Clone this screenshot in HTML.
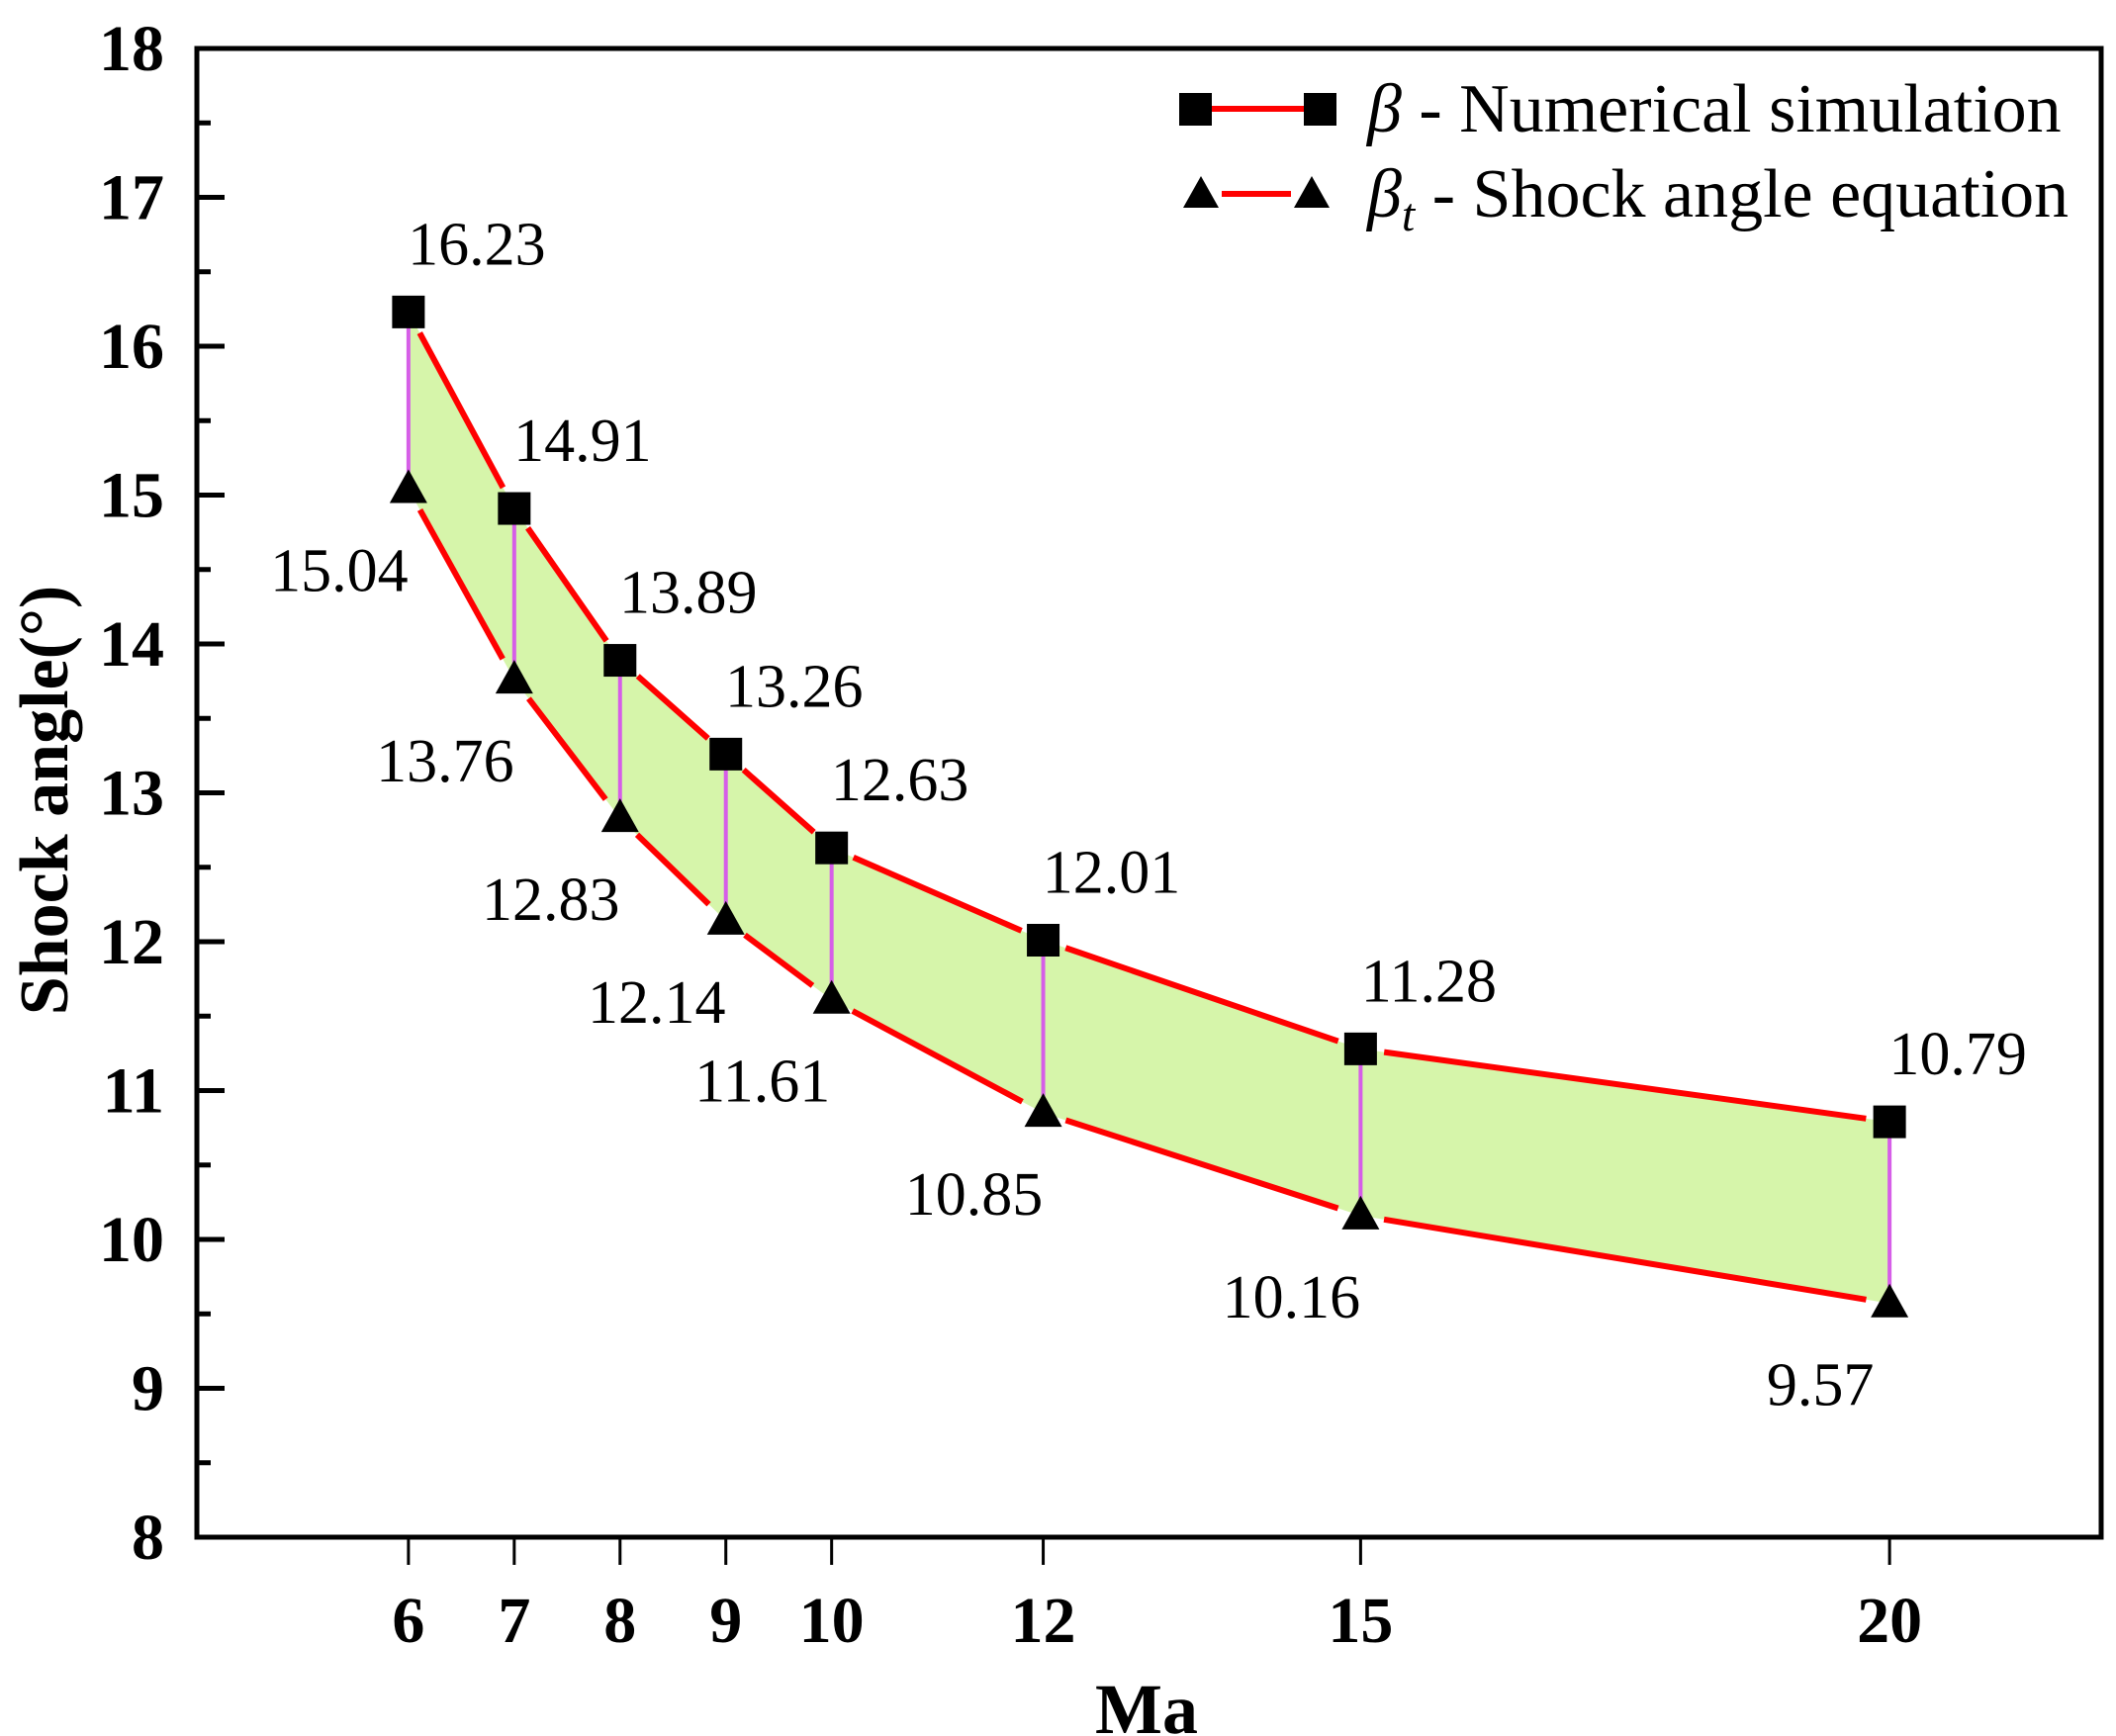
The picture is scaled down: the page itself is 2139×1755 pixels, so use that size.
<!DOCTYPE html>
<html><head><meta charset="utf-8"><style>
html,body{margin:0;padding:0;background:#fff;}
svg{display:block;font-family:"Liberation Serif",serif;}
</style></head><body>
<svg id="chart" width="2139" height="1755" viewBox="0 0 2139 1755" xmlns="http://www.w3.org/2000/svg">
<g id="fill"></g>
<g id="vlines"></g>
<g id="lines"></g>
<g id="marks"></g>
<g id="labels"></g>
<g id="axes"></g>
<text transform="translate(68,809) rotate(-90)" text-anchor="middle" font-weight="bold" font-size="70">Shock angle(°)</text>
<text x="1159" y="1752" text-anchor="middle" font-weight="bold" font-size="72">Ma</text>
<g>
  <g>
    <line x1="1208" y1="110" x2="1334" y2="110" stroke="#f00" stroke-width="6"/>
    <rect x="1192" y="94" width="33" height="33" fill="#000"/>
    <rect x="1318" y="94" width="33" height="33" fill="#000"/>
    <text x="1382" y="133" font-size="70"><tspan font-style="italic">β</tspan> - Numerical simulation</text>
  </g>
  <g>
    <line x1="1235" y1="196" x2="1305" y2="196" stroke="#f00" stroke-width="6"/>
    <polygon points="1214,178 1196,210 1232,210" fill="#000"/>
    <polygon points="1326,178 1308,210 1344,210" fill="#000"/>
    <text x="1382" y="219" font-size="70"><tspan font-style="italic">β</tspan><tspan font-style="italic" font-size="48" dy="14">t</tspan><tspan dy="-14"> - Shock angle equation</tspan></text>
  </g>
</g>
</svg>
<script>
const categories = [6, 7, 8, 9, 10, 12, 15, 20];
const betaSim = [16.23, 14.91, 13.89, 13.26, 12.63, 12.01, 11.28, 10.79];
const betaEq = [15.04, 13.76, 12.83, 12.14, 11.61, 10.85, 10.16, 9.57];
const yTicks = [8, 9, 10, 11, 12, 13, 14, 15, 16, 17, 18];
const xTicks = [6, 7, 8, 9, 10, 12, 15, 20];

const L = 199, R = 2124, T = 49, B = 1554;
const xMin = 4, xMax = 22, yMin = 8, yMax = 18;
const X = v => L + (v - xMin) / (xMax - xMin) * (R - L);
const Y = v => B - (v - yMin) / (yMax - yMin) * (B - T);
const NS = 'http://www.w3.org/2000/svg';
function mk(tag, attrs, parent) {
  const e = document.createElementNS(NS, tag);
  for (const k in attrs) e.setAttribute(k, attrs[k]);
  parent.appendChild(e);
  return e;
}
const gFill = document.getElementById('fill');
const gV = document.getElementById('vlines');
const gL = document.getElementById('lines');
const gM = document.getElementById('marks');
const gT = document.getElementById('labels');
const gA = document.getElementById('axes');

let pts = categories.map((c, i) => X(c) + ',' + Y(betaSim[i]));
pts = pts.concat(categories.map((c, i) => X(c) + ',' + Y(betaEq[i])).reverse());
const band = mk('polygon', {points: pts.join(' '), fill: '#d6f5aa'}, gFill);



categories.forEach((c, i) => {
  const v = mk('line', {x1: X(c), x2: X(c), y1: Y(betaSim[i]), y2: Y(betaEq[i]), stroke: '#d65ee8', 'stroke-width': 4}, gV);
  
  
});

function drawLine(vals, name) {
  for (let i = 0; i < vals.length - 1; i++) {
    const x1 = X(categories[i]), y1 = Y(vals[i]), x2 = X(categories[i + 1]), y2 = Y(vals[i + 1]);
    const dx = x2 - x1, dy = y2 - y1, len = Math.hypot(dx, dy), g = 24;
    const ln = mk('line', {x1: x1 + dx / len * g, y1: y1 + dy / len * g, x2: x2 - dx / len * g, y2: y2 - dy / len * g, stroke: '#f00', 'stroke-width': 6}, gL);
    
    
  }
}
drawLine(betaSim, 'numerical-line');
drawLine(betaEq, 'equation-line');

categories.forEach((c, i) => {
  const x = X(c), ys = Y(betaSim[i]), yt = Y(betaEq[i]);
  const s = mk('rect', {x: x - 16.5, y: ys - 16.5, width: 33, height: 33, fill: '#000'}, gM);
  
  
  const t = mk('polygon', {points: `${x},${yt - 20} ${x - 19},${yt + 14} ${x + 19},${yt + 14}`, fill: '#000'}, gM);
  
  
  const l1 = mk('text', {x: x + 69, y: ys - 48, 'text-anchor': 'middle', 'font-size': 62}, gT);
  l1.textContent = betaSim[i].toFixed(2);
  
  
  const l2 = mk('text', {x: x - 70, y: yt + 103, 'text-anchor': 'middle', 'font-size': 62}, gT);
  l2.textContent = betaEq[i].toFixed(2);
  
  
});

const fr = mk('rect', {x: L, y: T, width: R - L, height: B - T, fill: 'none', stroke: '#000', 'stroke-width': 5}, gA);



yTicks.forEach((v, i) => {
  const tk = mk('line', {x1: L, x2: L + 28, y1: Y(v), y2: Y(v), stroke: '#000', 'stroke-width': 5}, gA);
  
  
  if (i < yTicks.length - 1) {
    const m = (v + yTicks[i + 1]) / 2;
    const mt = mk('line', {x1: L, x2: L + 14, y1: Y(m), y2: Y(m), stroke: '#000', 'stroke-width': 5}, gA);
    
    
  }
  const lb = mk('text', {x: 166, y: Y(v) + 22, 'text-anchor': 'end', 'font-size': 66, 'font-weight': 'bold'}, gA);
  lb.textContent = v;
  
  
});

xTicks.forEach(v => {
  const tk = mk('line', {x1: X(v), x2: X(v), y1: B, y2: B + 28, stroke: '#000', 'stroke-width': 3}, gA);
  
  
  const lb = mk('text', {x: X(v), y: 1660, 'text-anchor': 'middle', 'font-size': 66, 'font-weight': 'bold'}, gA);
  lb.textContent = v;
  
  
});
</script>
</body></html>
